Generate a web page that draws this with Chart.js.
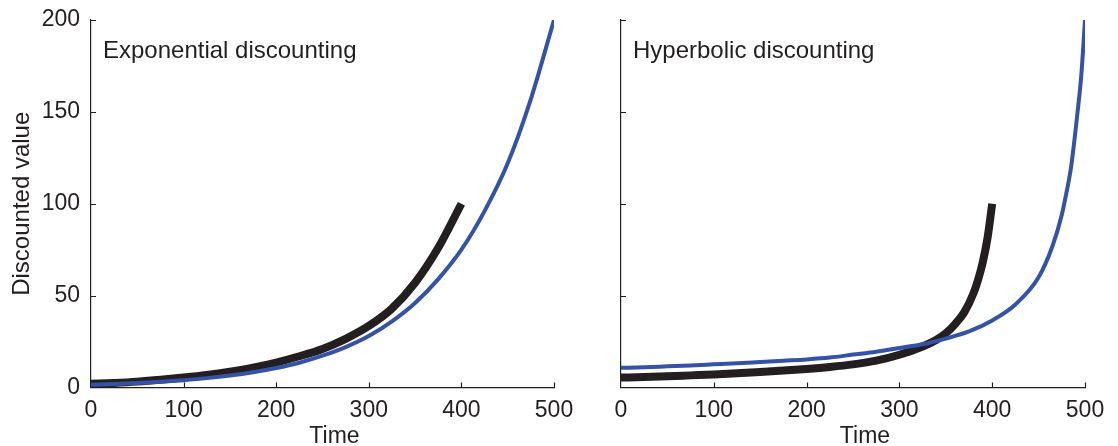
<!DOCTYPE html>
<html>
<head>
<meta charset="utf-8">
<title>Discounting</title>
<script src="https://cdn.jsdelivr.net/npm/chart.js@4.4.1/dist/chart.umd.min.js"></script>
<style>
  html, body { margin: 0; padding: 0; background: #fff; }
  #wrap { position: relative; width: 1118px; height: 446px; }
  .panel { position: absolute; top: 0; }
  #leftPanel { left: 0; }
  #rightPanel { left: 590px; }
</style>
</head>
<body>
<div id="wrap">
  <canvas class="panel" id="leftPanel" width="590" height="446"></canvas>
  <canvas class="panel" id="rightPanel" width="528" height="446"></canvas>
</div>
<script>
// values
const xTicks = [0, 100, 200, 300, 400, 500];
const yTicks = [0, 50, 100, 150, 200];

// left panel: exponential discounting
const expSoonTime = [0, 25, 50, 75, 100, 125, 150, 175, 200, 225, 250, 275, 300, 325, 350, 375, 400];
const expSoonValue = [2.0, 2.5, 3.2, 4.2, 5.4, 6.8, 8.6, 10.8, 13.6, 17.0, 21.0, 26.5, 33.5, 43.0, 57.0, 76.0, 100];
const expLateTime = [0, 25, 50, 75, 100, 125, 150, 175, 200, 225, 250, 275, 300, 325, 350, 375, 400, 425, 450, 475, 500];
const expLateValue = [1.5, 1.9, 2.4, 3.1, 4.0, 5.1, 6.5, 8.3, 10.6, 13.5, 17.3, 22.0, 28.0, 36.0, 46.0, 59.0, 75.0, 96.0, 122.0, 157.0, 200];

// right panel: hyperbolic discounting
const hypSoonTime = [0, 25, 50, 75, 100, 125, 150, 175, 200, 225, 250, 275, 300, 325, 340, 350, 360, 370, 380, 385, 390, 395, 400];
const hypSoonValue = [5.4, 5.7, 6.1, 6.6, 7.1, 7.7, 8.4, 9.2, 10.1, 11.2, 12.6, 14.6, 17.8, 22.3, 26.0, 29.5, 34.5, 41.0, 51.5, 59.0, 68.5, 81.5, 100];
const hypLateTime = [0, 25, 50, 75, 100, 125, 150, 175, 200, 225, 250, 275, 300, 325, 350, 375, 400, 425, 450, 465, 475, 480, 485, 492, 496, 500];
const hypLateValue = [10.7, 11.0, 11.5, 12.0, 12.6, 13.2, 13.9, 14.6, 15.3, 16.3, 17.9, 19.5, 21.5, 23.5, 26.6, 30.5, 36.5, 45.2, 60.0, 77.0, 94.0, 106.0, 120.0, 150.0, 170.0, 200];

const ink = '#231f20';
const blue = '#3453a6';
const fontFamily = '"Liberation Sans", Arial, Helvetica, sans-serif';

Chart.defaults.font.family = fontFamily;
Chart.defaults.color = ink;

function toPoints(times, values) {
    return times.map((t, i) => ({ x: t, y: values[i] }));
}

// inward tick marks, panel label and x title
const panelDecor = {
    id: 'panelDecor',
    beforeDatasetsDraw(chart, args, opts) {
        const { ctx, chartArea, scales } = chart;
        ctx.save();
        ctx.strokeStyle = ink;
        ctx.lineWidth = 1.2;
        ctx.beginPath();
        xTicks.forEach(v => {
            if (v === 0) return;
            const px = Math.round(scales.x.getPixelForValue(v)) + 0.5;
            ctx.moveTo(px, chartArea.bottom);
            ctx.lineTo(px, chartArea.bottom - 5);
        });
        yTicks.forEach(v => {
            if (v === 0) return;
            const py = Math.round(scales.y.getPixelForValue(v)) + 0.5;
            ctx.moveTo(chartArea.left, py);
            ctx.lineTo(chartArea.left + 5, py);
        });
        ctx.stroke();

        ctx.fillStyle = ink;
        ctx.textBaseline = 'alphabetic';
        ctx.font = '24px ' + fontFamily;
        ctx.textAlign = 'left';
        ctx.fillText(opts.text, chartArea.left + 12, chartArea.top + 37.5);

        ctx.font = '23px ' + fontFamily;
        ctx.textAlign = 'center';
        ctx.fillText('Time', (chartArea.left + chartArea.right) / 2 + 12, 443);
        ctx.restore();
    }
};

function makePanel(canvasId, label, soon, late, showYLabels, yWidth, rightPad) {
    return new Chart(document.getElementById(canvasId), {
        type: 'line',
        data: {
            datasets: [
                {
                    data: late,
                    borderColor: blue,
                    borderWidth: 4,
                    pointRadius: 0,
                    cubicInterpolationMode: 'monotone',
                    fill: false
                },
                {
                    data: soon,
                    borderColor: ink,
                    borderWidth: 8,
                    pointRadius: 0,
                    cubicInterpolationMode: 'monotone',
                    fill: false
                }
            ]
        },
        options: {
            responsive: false,
            animation: false,
            devicePixelRatio: 1,
            layout: { padding: { top: 20, right: rightPad, bottom: 0, left: 0 } },
            plugins: {
                legend: { display: false },
                tooltip: { enabled: false },
                panelDecor: { text: label }
            },
            scales: {
                x: {
                    type: 'linear',
                    min: 0,
                    max: 500,
                    afterBuildTicks: s => { s.ticks = xTicks.map(v => ({ value: v })); },
                    afterFit: s => { s.height = 58.5; },
                    grid: { display: false, drawTicks: false },
                    border: { display: true, color: ink, width: 1.2 },
                    ticks: { color: ink, padding: 9, font: { size: 23 }, maxRotation: 0 }
                },
                y: {
                    type: 'linear',
                    min: 0,
                    max: 200,
                    afterBuildTicks: s => { s.ticks = yTicks.map(v => ({ value: v })); },
                    afterFit: s => { s.width = yWidth; s.paddingTop = 0; s.paddingBottom = 0; },
                    grid: { display: false, drawTicks: false },
                    border: { display: true, color: ink, width: 1.2 },
                    ticks: { display: showYLabels, color: ink, padding: 11, font: { size: 23, lineHeight: 0.8 } },
                    title: {
                        display: showYLabels,
                        text: 'Discounted value',
                        color: ink,
                        font: { size: 24 },
                        padding: { top: 8, bottom: 0 }
                    }
                }
            }
        },
        plugins: [panelDecor]
    });
}

makePanel('leftPanel', 'Exponential discounting',
    toPoints(expSoonTime, expSoonValue), toPoints(expLateTime, expLateValue), true, 91, 36);
makePanel('rightPanel', 'Hyperbolic discounting',
    toPoints(hypSoonTime, hypSoonValue), toPoints(hypLateTime, hypLateValue), false, 31, 33);
</script>
</body>
</html>
